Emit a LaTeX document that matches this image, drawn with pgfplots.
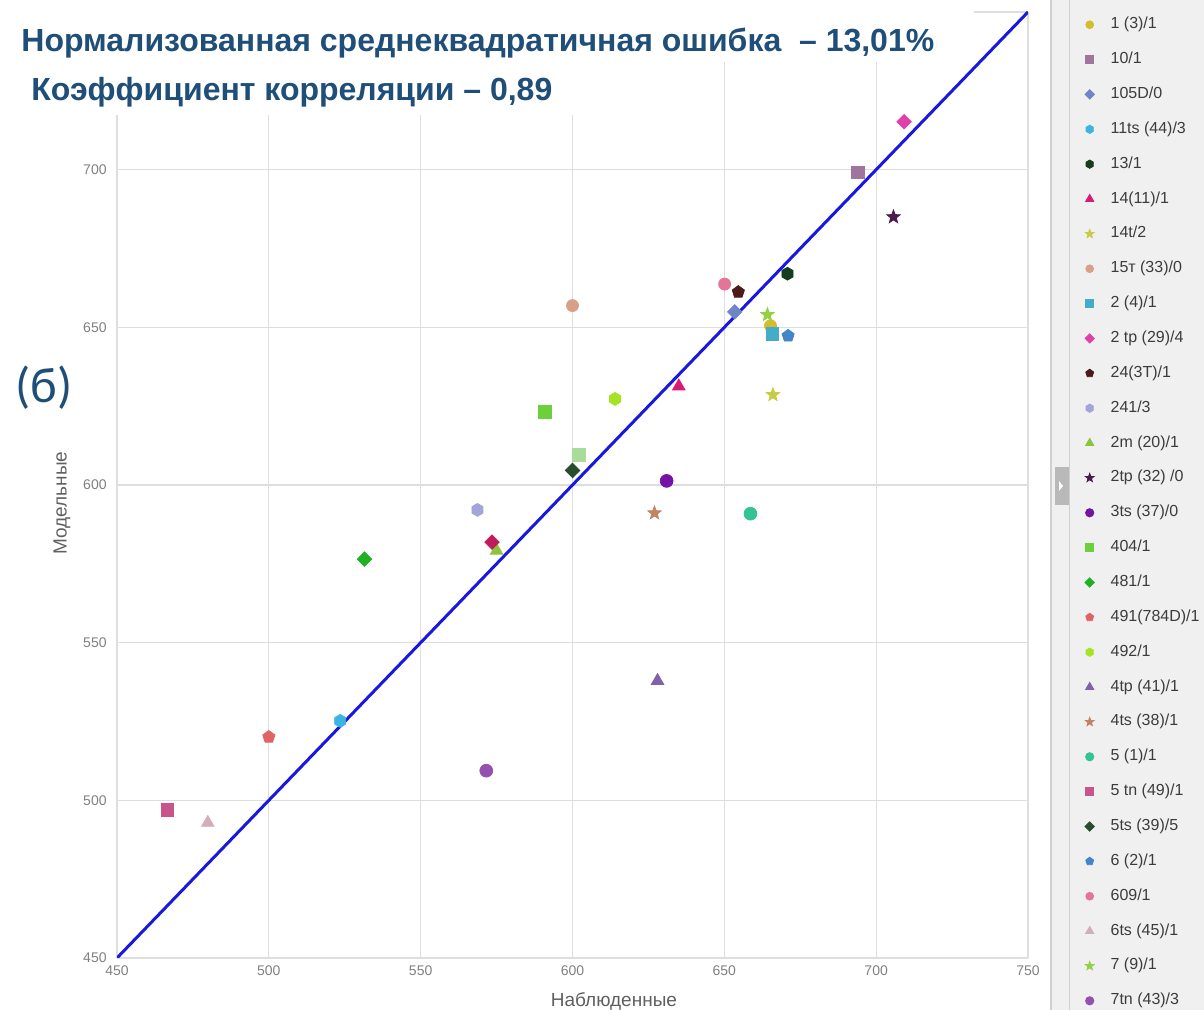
\documentclass[border=0pt]{standalone}
\usepackage{pgfplots}
\pgfplotsset{compat=1.18}
\usepackage{fontspec}
\setmainfont{Liberation Sans}
\newfontfamily\carlito{Carlito}

\definecolor{titleblue}{HTML}{1F4E79}
\definecolor{gridgray}{HTML}{DEDEDE}
\definecolor{tickgray}{HTML}{808080}
\definecolor{labelgray}{HTML}{606060}
\definecolor{legbg}{HTML}{F0F0F0}
\definecolor{legborder}{HTML}{D0D0D0}
\definecolor{legtext}{HTML}{3C3C3C}
\definecolor{diag}{HTML}{1818E0}

\definecolor{cA}{HTML}{D4BC2C}
\definecolor{cB}{HTML}{A0749C}
\definecolor{cC}{HTML}{6E86C4}
\definecolor{cD}{HTML}{3CB4E4}
\definecolor{cE}{HTML}{163C1E}
\definecolor{cF}{HTML}{D81C74}
\definecolor{cG}{HTML}{C8CC44}
\definecolor{cH}{HTML}{D8A088}
\definecolor{cI}{HTML}{44ACC8}
\definecolor{cJ}{HTML}{E040A8}
\definecolor{cK}{HTML}{4C1A1A}
\definecolor{cL}{HTML}{A4A4DC}
\definecolor{cM}{HTML}{8CC43C}
\definecolor{cN}{HTML}{4C1A4C}
\definecolor{cO}{HTML}{7414A4}
\definecolor{cP}{HTML}{6CD03C}
\definecolor{cQ}{HTML}{20B024}
\definecolor{cR}{HTML}{E06464}
\definecolor{cS}{HTML}{A4E424}
\definecolor{cT}{HTML}{8062A8}
\definecolor{cU}{HTML}{C08464}
\definecolor{cV}{HTML}{34C494}
\definecolor{cW}{HTML}{C8548C}
\definecolor{cX}{HTML}{284C2C}
\definecolor{cY}{HTML}{4484C8}
\definecolor{cZ}{HTML}{E47498}
\definecolor{cAA}{HTML}{D4ACBC}
\definecolor{cAB}{HTML}{94D044}
\definecolor{cAC}{HTML}{9450B0}
\definecolor{cAD}{HTML}{A8DC98}
\definecolor{cAE}{HTML}{C01C5C}

\pgfdeclareplotmark{hexagon*}{%
  \pgfpathmoveto{\pgfpointpolar{30}{\pgfplotmarksize}}%
  \pgfpathlineto{\pgfpointpolar{90}{\pgfplotmarksize}}%
  \pgfpathlineto{\pgfpointpolar{150}{\pgfplotmarksize}}%
  \pgfpathlineto{\pgfpointpolar{210}{\pgfplotmarksize}}%
  \pgfpathlineto{\pgfpointpolar{270}{\pgfplotmarksize}}%
  \pgfpathlineto{\pgfpointpolar{330}{\pgfplotmarksize}}%
  \pgfpathclose
  \pgfusepathqfillstroke}
\pgfdeclareplotmark{sdiamond*}{%
  \pgfpathmoveto{\pgfqpoint{0pt}{\pgfplotmarksize}}%
  \pgfpathlineto{\pgfqpoint{\pgfplotmarksize}{0pt}}%
  \pgfpathlineto{\pgfqpoint{0pt}{-\pgfplotmarksize}}%
  \pgfpathlineto{\pgfqpoint{-\pgfplotmarksize}{0pt}}%
  \pgfpathclose
  \pgfusepathqfillstroke}
\pgfdeclareplotmark{fstar}{%
  \pgfpathmoveto{\pgfpointpolar{90}{\pgfplotmarksize}}%
  \pgfpathlineto{\pgfpointpolar{126}{0.42\pgfplotmarksize}}%
  \pgfpathlineto{\pgfpointpolar{162}{\pgfplotmarksize}}%
  \pgfpathlineto{\pgfpointpolar{198}{0.42\pgfplotmarksize}}%
  \pgfpathlineto{\pgfpointpolar{234}{\pgfplotmarksize}}%
  \pgfpathlineto{\pgfpointpolar{270}{0.42\pgfplotmarksize}}%
  \pgfpathlineto{\pgfpointpolar{306}{\pgfplotmarksize}}%
  \pgfpathlineto{\pgfpointpolar{342}{0.42\pgfplotmarksize}}%
  \pgfpathlineto{\pgfpointpolar{18}{\pgfplotmarksize}}%
  \pgfpathlineto{\pgfpointpolar{54}{0.42\pgfplotmarksize}}%
  \pgfpathclose
  \pgfusepathqfillstroke}

\pgfplotsset{
  pt/.style 2 args={only marks, mark=#1, color=#2,
    mark options={solid, draw=#2, fill=#2}},
}

\begin{document}
\begin{tikzpicture}
\useasboundingbox (0,0) rectangle (602pt,505pt);
% legend panel
\fill[legbg] (525pt,0) rectangle (602pt,505pt);
\draw[legborder, line width=0.6pt] (525.5pt,0) -- (525.5pt,505pt);
\draw[legborder, line width=0.5pt] (534.5pt,0) -- (534.5pt,505pt);
\fill[gray!55] (527.5pt,252.5pt) rectangle (534.5pt,271.5pt);
\fill[white] (529.5pt,259.5pt) -- (531.5pt,262pt) -- (529.5pt,264.5pt) -- cycle;

\begin{axis}[
  at={(58.5pt,26pt)}, anchor=south west,
  scale only axis, width=455.5pt, height=473pt,
  xmin=450, xmax=750, ymin=450, ymax=750,
  xtick={450,500,...,750}, ytick={450,500,...,750},
  grid=major, grid style={draw=gridgray, line width=0.6pt},
  axis line style={draw=none},
  major tick length=0pt,
  tick label style={font=\fontsize{7}{8}\selectfont, text=tickgray},
  /pgf/number format/assume math mode=true,
  xticklabel style={anchor=center, yshift=-6.5pt},
  yticklabel style={anchor=east, inner sep=0pt, xshift=-5pt},
  xlabel={Наблюденные}, ylabel={Модельные},
  label style={font=\fontsize{9.5}{11}\selectfont, text=labelgray},
  xlabel style={at={(axis description cs:0.5455,-0.04545)}, anchor=center},
  ylabel style={at={(axis description cs:-0.0605,0.481)}, anchor=center},
  legend cell align=left,
  legend image code/.code={\draw[#1, /tikz/every mark/.append style={scale=0.65}] plot coordinates {(0pt,0pt)};},
  legend style={at={(axis description cs:1.0626,0.9950)}, anchor=north west,
    draw=none, fill=none, inner sep=0pt, outer sep=0pt,
    font=\fontsize{8}{9.6}\selectfont, text=legtext,
    row sep=9.43pt,
    nodes={inner sep=0pt, text height=6pt, text depth=2pt},
    /tikz/every odd column/.append style={column sep=8.1pt}},
]
\addplot[diag, line width=1.5pt, forget plot] coordinates {(450,450) (750,750)};

\addplot[pt={*}{cA}, mark size=3pt] coordinates {(665.2,650.5)};
\addlegendentry{1 (3)/1}
\addplot[pt={square*}{cB}, mark size=3.2pt] coordinates {(694.1,699.1)};
\addlegendentry{10/1}
\addplot[pt={sdiamond*}{cC}, mark size=3.6pt] coordinates {(653.4,654.9)};
\addlegendentry{105D/0}
\addplot[pt={hexagon*}{cD}, mark size=3.2pt] coordinates {(523.5,525.2)};
\addlegendentry{11ts (44)/3}
\addplot[pt={hexagon*}{cE}, mark size=3.2pt] coordinates {(670.8,667.0)};
\addlegendentry{13/1}
\addplot[pt={triangle*}{cF}, mark size=3.6pt] coordinates {(635.0,631.3)};
\addlegendentry{14(11)/1}
\addplot[pt={fstar}{cG}, mark size=3.5pt] coordinates {(666.0,628.6)};
\addlegendentry{14t/2}
\addplot[pt={*}{cH}, mark size=3pt] coordinates {(600.0,656.9)};
\addlegendentry{15т (33)/0}
\addplot[pt={square*}{cI}, mark size=3.2pt] coordinates {(665.8,647.9)};
\addlegendentry{2 (4)/1}
\addplot[pt={sdiamond*}{cJ}, mark size=3.6pt] coordinates {(709.2,715.2)};
\addlegendentry{2 tp (29)/4}
\addplot[pt={pentagon*}{cK}, mark size=3.2pt] coordinates {(654.6,661.2)};
\addlegendentry{24(3T)/1}
\addplot[pt={hexagon*}{cL}, mark size=3.2pt] coordinates {(568.7,592.1)};
\addlegendentry{241/3}
\addplot[pt={triangle*}{cM}, mark size=3.6pt] coordinates {(575.0,579.2)};
\addlegendentry{2m (20)/1}
\addplot[pt={fstar}{cN}, mark size=3.5pt] coordinates {(705.7,685.0)};
\addlegendentry{2tp (32) /0}
\addplot[pt={*}{cO}, mark size=3.2pt] coordinates {(631.0,601.3)};
\addlegendentry{3ts (37)/0}
\addplot[pt={square*}{cP}, mark size=3.2pt] coordinates {(590.8,623.3)};
\addlegendentry{404/1}
\addplot[pt={sdiamond*}{cQ}, mark size=3.6pt] coordinates {(531.5,576.5)};
\addlegendentry{481/1}
\addplot[pt={pentagon*}{cR}, mark size=3.2pt] coordinates {(500.0,520.1)};
\addlegendentry{491(784D)/1}
\addplot[pt={hexagon*}{cS}, mark size=3.2pt] coordinates {(614.0,627.3)};
\addlegendentry{492/1}
\addplot[pt={triangle*}{cT}, mark size=3.6pt] coordinates {(628.0,537.9)};
\addlegendentry{4tp (41)/1}
\addplot[pt={fstar}{cU}, mark size=3.5pt] coordinates {(627.0,591.1)};
\addlegendentry{4ts (38)/1}
\addplot[pt={*}{cV}, mark size=3.2pt] coordinates {(658.6,590.9)};
\addlegendentry{5 (1)/1}
\addplot[pt={square*}{cW}, mark size=3.2pt] coordinates {(466.6,496.9)};
\addlegendentry{5 tn (49)/1}
\addplot[pt={sdiamond*}{cX}, mark size=3.6pt] coordinates {(600.0,604.6)};
\addlegendentry{5ts (39)/5}
\addplot[pt={pentagon*}{cY}, mark size=3.2pt] coordinates {(671.0,647.3)};
\addlegendentry{6 (2)/1}
\addplot[pt={*}{cZ}, mark size=3pt] coordinates {(650.1,663.7)};
\addlegendentry{609/1}
\addplot[pt={triangle*}{cAA}, mark size=3.6pt] coordinates {(479.9,492.9)};
\addlegendentry{6ts (45)/1}
\addplot[pt={fstar}{cAB}, mark size=3.5pt] coordinates {(664.2,654.0)};
\addlegendentry{7 (9)/1}
\addplot[pt={*}{cAC}, mark size=3.2pt] coordinates {(571.6,509.4)};
\addlegendentry{7tn (43)/3}
% points whose legend entries lie below the visible part of the list
\addplot[pt={square*}{cAD}, mark size=3.2pt, forget plot] coordinates {(602.0,609.6)};
\addplot[pt={sdiamond*}{cAE}, mark size=3.6pt, forget plot] coordinates {(573.5,581.9)};
\end{axis}

% title boxes over the plot
\fill[white] (0,505pt) rectangle (487pt,474pt);
\fill[white] (0,474pt) rectangle (300pt,447.5pt);
\node[anchor=base west, inner sep=0pt, text=titleblue, font=\bfseries\fontsize{16}{18}\selectfont]
  at (10.5pt,479pt) {Нормализованная среднеквадратичная ошибка~~– 13,01\%};
\node[anchor=base west, inner sep=0pt, text=titleblue, font=\bfseries\fontsize{16}{18}\selectfont]
  at (15.5pt,454.5pt) {Коэффициент корреляции – 0,89};
\node[anchor=center, inner sep=0pt, text=titleblue, font=\carlito\fontsize{25}{28}\selectfont]
  at (21.9pt,311pt) {(б)};
\end{tikzpicture}
\end{document}
